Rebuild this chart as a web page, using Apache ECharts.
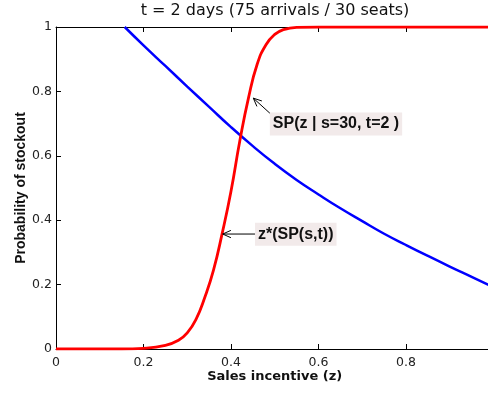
<!DOCTYPE html>
<html>
<head>
<meta charset="utf-8">
<script src="https://cdn.jsdelivr.net/npm/echarts@6/dist/echarts.min.js"></script>
<style>
  html, body { margin: 0; padding: 0; background: #fff; }
  #chart { width: 488px; height: 396px; }
</style>
</head>
<body>
<div id="chart"></div>
<script>
// ---- data ----
var titleText = 't = 2 days (75 arrivals / 30 seats)';
var xAxisName = 'Sales incentive (z)';
var yAxisName = 'Probability of stockout';

// blue curve (starts at the top edge, clipped above 1)
var blueZ = [0.157, 0.2, 0.25, 0.3, 0.35, 0.4, 0.45, 0.5, 0.55, 0.6, 0.65, 0.7, 0.75, 0.8, 0.85, 0.9, 0.95, 1.0];
var blueP = [1.0, 0.943, 0.879, 0.815, 0.752, 0.689, 0.630, 0.575, 0.525, 0.480, 0.437, 0.397, 0.358, 0.323, 0.289, 0.256, 0.224, 0.192];

// red curve SP(z | s=30, t=2)
var redZ = [0, 0.15, 0.2, 0.25, 0.28, 0.3, 0.32, 0.34, 0.36, 0.38, 0.4, 0.42, 0.44, 0.46, 0.48, 0.5, 0.52, 0.55, 0.6, 1.0];
var redP = [0, 0, 0.002, 0.011, 0.027, 0.05, 0.092, 0.16, 0.245, 0.36, 0.49, 0.645, 0.78, 0.885, 0.945, 0.977, 0.992, 0.999, 1, 1];

// annotations (data coordinates): text, text centre, arrow tail, arrow head
var annoText = ['SP(z | s=30, t=2 )', 'z*(SP(s,t))'];
var annoCenter = [[0.640, 0.699], [0.548, 0.356]];
var annoTail = [[0.489, 0.732], [0.455, 0.357]];
var annoHead = [[0.451, 0.779], [0.381, 0.357]];

function pairs(xs, ys) { return xs.map(function (x, i) { return [x, ys[i]]; }); }

var chart = echarts.init(document.getElementById('chart'), null, { renderer: 'canvas' });

var axisColor = '#000';
var labelColor = '#222';

var option = {
  animation: false,
  backgroundColor: '#fff',
  grid: { left: 56, top: 27, right: -5.5, bottom: 47, containLabel: false, outerBoundsMode: 'none' },
  xAxis: [{
    type: 'value', min: 0, max: 1, interval: 0.2, position: 'bottom',
    name: xAxisName, nameLocation: 'middle', nameGap: 21, nameMoveOverlap: false,
    nameTextStyle: { fontFamily: 'DejaVu Sans', fontWeight: 'bold', fontSize: 13, color: '#111' },
    axisLine: { show: true, onZero: false, lineStyle: { color: axisColor, width: 1 } },
    axisTick: { show: true, inside: true, length: 5, lineStyle: { color: axisColor } },
    axisLabel: { margin: 7, fontFamily: 'DejaVu Sans', fontSize: 12.5, color: labelColor,
      formatter: function (v) { return String(+v.toFixed(1)); } },
    splitLine: { show: false }
  }, {
    type: 'value', min: 0, max: 1, interval: 0.2, position: 'top',
    axisLine: { show: true, onZero: false, lineStyle: { color: axisColor, width: 1 } },
    axisTick: { show: true, inside: true, length: 5, lineStyle: { color: axisColor } },
    axisLabel: { show: false },
    splitLine: { show: false }
  }],
  yAxis: [{
    type: 'value', min: 0, max: 1, interval: 0.2,
    name: yAxisName, nameLocation: 'middle', nameGap: 28, nameRotate: 90, nameMoveOverlap: false,
    nameTextStyle: { fontFamily: 'Liberation Sans', fontWeight: 'bold', fontSize: 14, color: '#111' },
    axisLine: { show: true, onZero: false, lineStyle: { color: axisColor, width: 1 } },
    axisTick: { show: true, inside: true, length: 5, lineStyle: { color: axisColor } },
    axisLabel: { margin: 4, fontFamily: 'DejaVu Sans', fontSize: 12.5, color: labelColor,
      formatter: function (v) { return String(+v.toFixed(1)); } },
    splitLine: { show: false }
  }],
  series: [{
    type: 'line', data: pairs(blueZ, blueP), showSymbol: false,
    smooth: 0.5,
    lineStyle: { color: '#0000ff', width: 2.5 }, z: 3
  }, {
    type: 'line', data: pairs(redZ, redP), showSymbol: false,
    smooth: 0.5,
    lineStyle: { color: '#ff0000', width: 2.8 }, z: 4
  }]
};
chart.setOption(option);

// annotations positioned from data coordinates
var g = [];
g.push({
  type: 'text', x: 275, y: 11,
  style: { text: titleText, fontFamily: 'DejaVu Sans', fontSize: 16, fill: '#111', align: 'center', verticalAlign: 'middle' }
});
for (var i = 0; i < annoText.length; i++) {
  var c = chart.convertToPixel({ gridIndex: 0 }, annoCenter[i]);
  var t = chart.convertToPixel({ gridIndex: 0 }, annoTail[i]);
  var h = chart.convertToPixel({ gridIndex: 0 }, annoHead[i]);
  var ang = Math.atan2(t[1] - h[1], t[0] - h[0]);
  var L = 9, a = 0.42;
  var p1 = [h[0] + L * Math.cos(ang + a), h[1] + L * Math.sin(ang + a)];
  var p2 = [h[0] + L * Math.cos(ang - a), h[1] + L * Math.sin(ang - a)];
  g.push({ type: 'line', shape: { x1: t[0], y1: t[1], x2: h[0], y2: h[1] }, style: { stroke: '#000', lineWidth: 1 }, z: 10 });
  g.push({ type: 'polyline', shape: { points: [p1, h, p2] }, style: { stroke: '#000', lineWidth: 1, fill: null }, z: 10 });
  g.push({
    type: 'text', x: c[0], y: c[1], z: 11,
    style: {
      text: annoText[i], fontFamily: 'Liberation Sans', fontWeight: 'bold', fontSize: 16, fill: '#111',
      align: 'center', verticalAlign: 'middle',
      backgroundColor: '#f2eaea', padding: [4, 3, 3, 3]
    }
  });
}
chart.setOption({ graphic: g });
</script>
</body>
</html>
